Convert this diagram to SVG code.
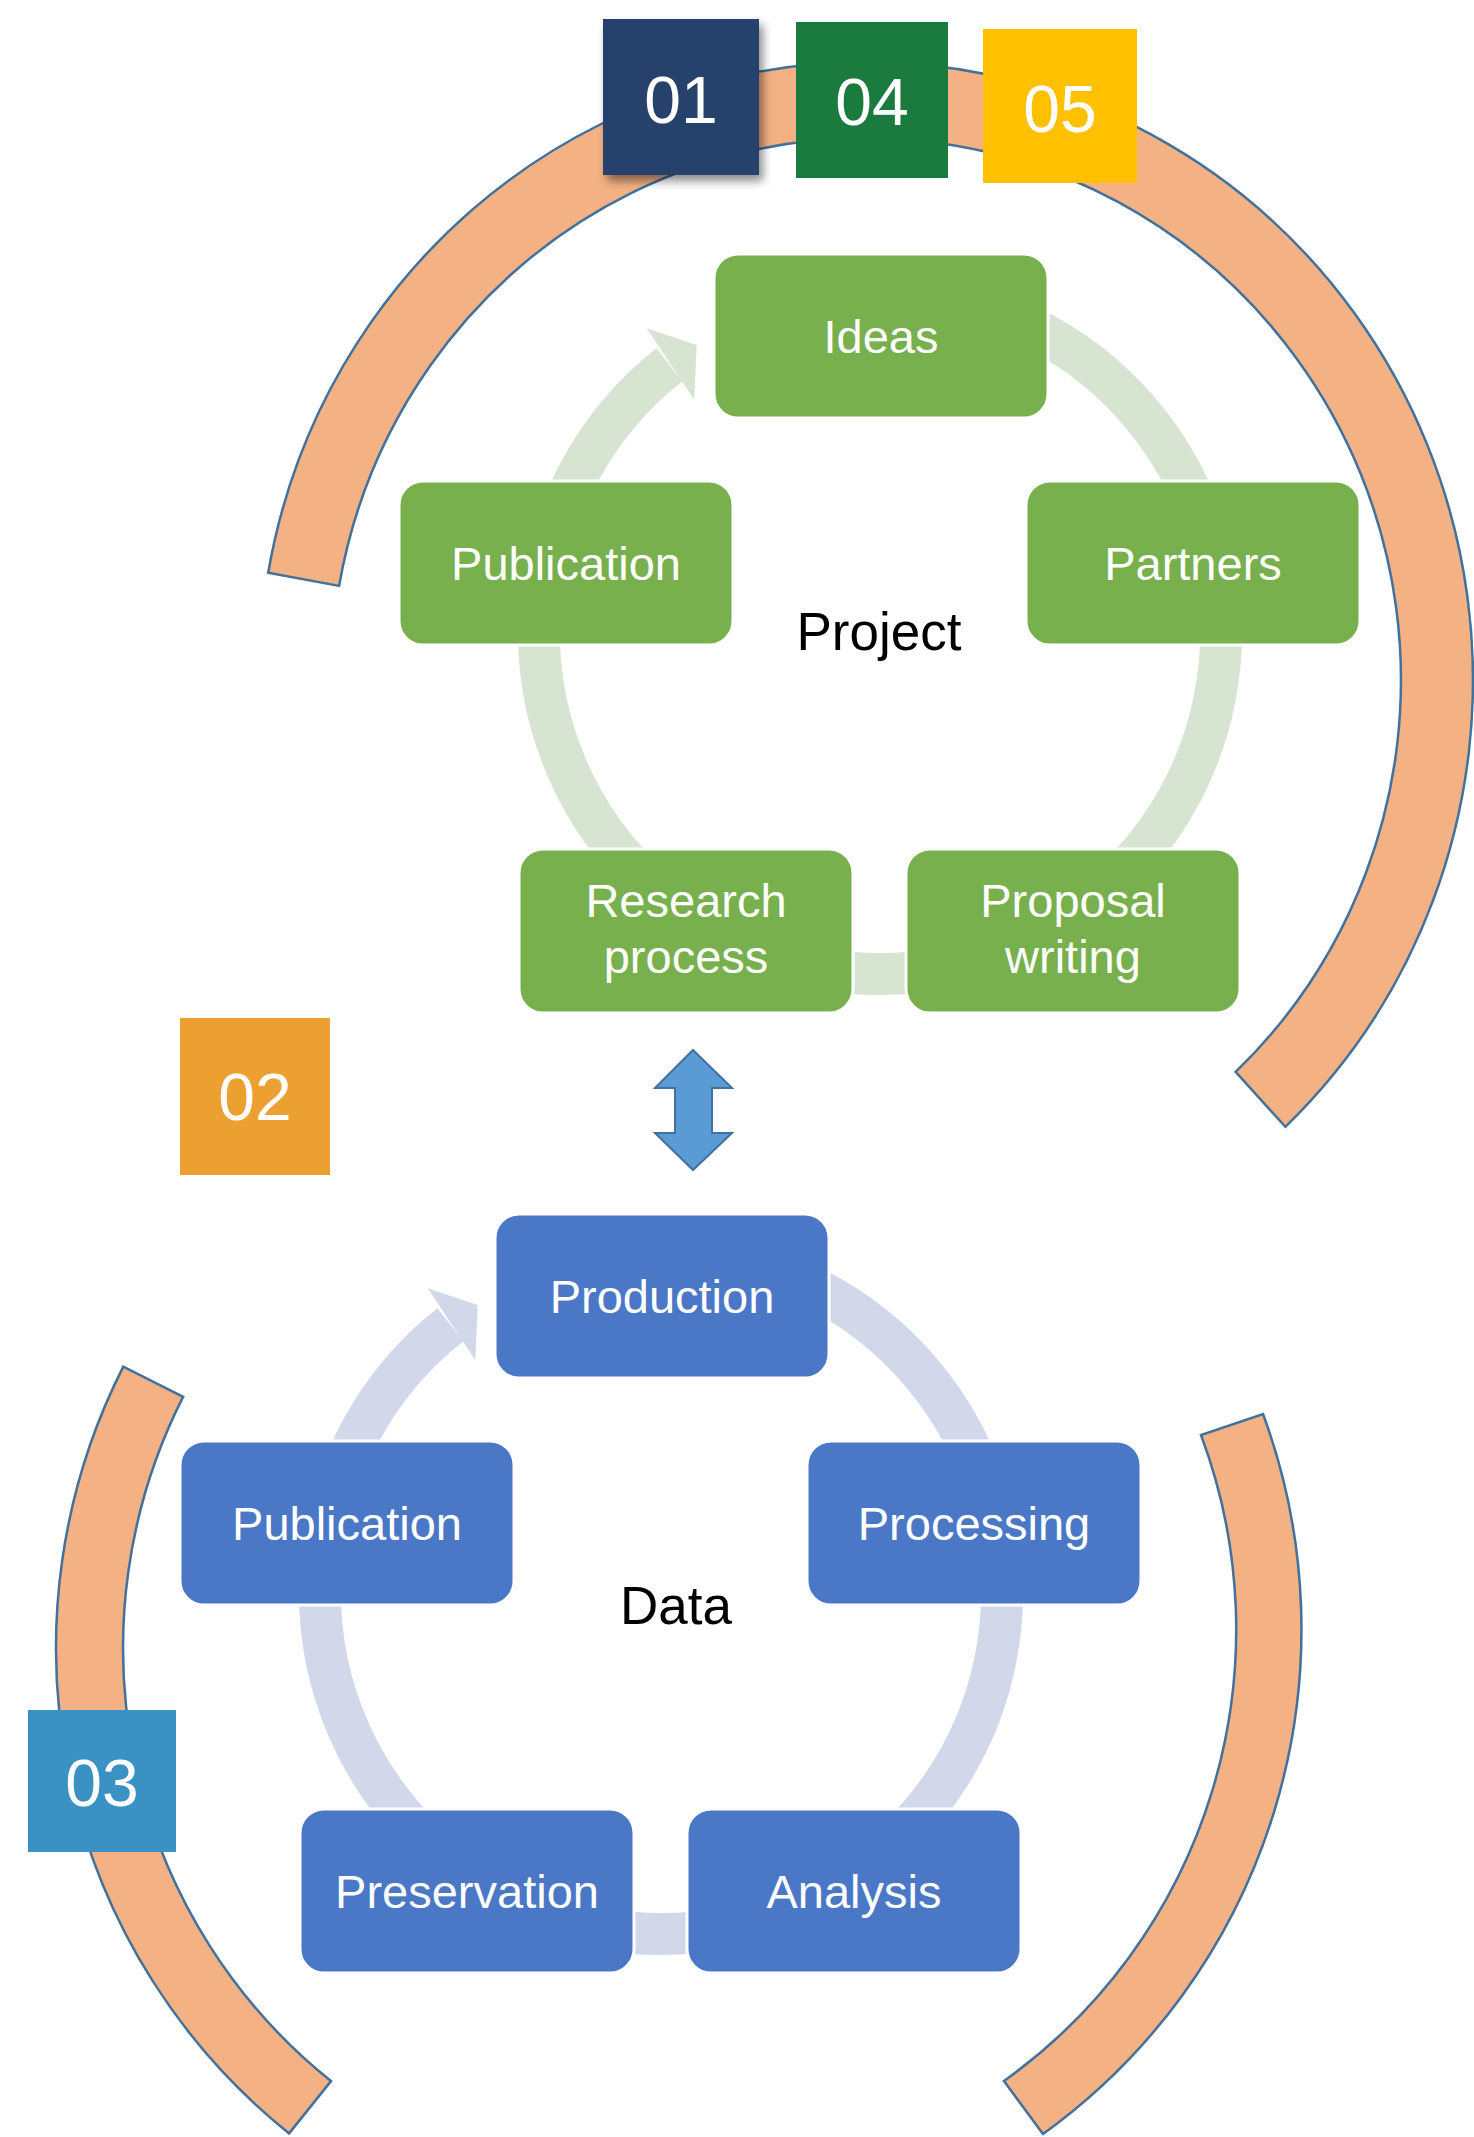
<svg xmlns="http://www.w3.org/2000/svg" width="1474" height="2137" viewBox="0 0 1474 2137">
<style>
.g{fill:#78b04e;stroke:#fff;stroke-width:3}
.b{fill:#4a78c6;stroke:#fff;stroke-width:3}
.nt{font-family:"Liberation Sans",Arial,sans-serif;font-size:47px;fill:#fff;text-anchor:middle}
.ct{font-family:"Liberation Sans",Arial,sans-serif;font-size:53px;fill:#000;text-anchor:middle}
.num{font-family:"Liberation Sans",Arial,sans-serif;font-size:66px;fill:#fff;text-anchor:middle}
.arc{fill:#f4b183;stroke:#41719c;stroke-width:2.5;stroke-linejoin:miter}
.tg{fill:none;stroke:#d8e4d2;stroke-width:42}
.tb{fill:none;stroke:#d2d7ea;stroke-width:42}
</style>
<defs>
<filter id="sh" x="-20%" y="-20%" width="150%" height="150%">
<feDropShadow dx="4" dy="6" stdDeviation="5" flood-color="#000" flood-opacity="0.45"/>
</filter>
</defs>
<rect width="1474" height="2137" fill="#fff"/>

<g id="connectors">
<path class="tg" d="M1029.5,326.5 A341 341 0 1 1 669.4,364.8"/>
<polygon fill="#d8e4d2" points="646.7,328.3 696.7,345 694.3,400"/>
<path class="tb" d="M810.5,1286.5 A341 341 0 1 1 450.4,1324.8"/>
<polygon fill="#d2d7ea" points="427.7,1288.3 477.7,1305 475.3,1360"/>
<path id="double-arrow" fill="#5b9bd5" stroke="#41719c" stroke-width="2" d="M693,1050 L732,1088 L712,1088 L712,1133 L732,1133 L693,1170 L655,1133 L675,1133 L675,1088 L655,1088 Z"/>
</g>

<g id="brackets">
<path class="arc" d="M268.2,572.7 A607 618 0 1 1 1285.4,1126.8 L1235.6,1071.9 A535 542 0 1 0 339.1,585.9 Z"/>
<path class="arc" d="M123.3,1366.6 A622 622 0 0 0 289.1,2133.4 L331,2081.1 A555 555 0 0 1 183.1,1396.9 Z"/>
<path class="arc" d="M1263,1414 A622 622 0 0 1 1043,2134 L1004,2081 A555 555 0 0 0 1201,1435 Z"/>
</g>

<g id="node-ideas"><rect class="g" x="714" y="254" width="334" height="164" rx="24"/><text class="nt" x="881" y="353">Ideas</text></g>
<g id="node-partners"><rect class="g" x="1026" y="481" width="334" height="164" rx="24"/><text class="nt" x="1193" y="580">Partners</text></g>
<g id="node-proposal"><rect class="g" x="906" y="849" width="334" height="164" rx="24"/><text class="nt" x="1073" y="917">Proposal</text><text class="nt" x="1073" y="973">writing</text></g>
<g id="node-research"><rect class="g" x="519" y="849" width="334" height="164" rx="24"/><text class="nt" x="686" y="917">Research</text><text class="nt" x="686" y="973">process</text></g>
<g id="node-publication-project"><rect class="g" x="399" y="481" width="334" height="164" rx="24"/><text class="nt" x="566" y="580">Publication</text></g>
<g id="label-project"><text class="ct" x="879" y="650">Project</text></g>

<g id="node-production"><rect class="b" x="495" y="1214" width="334" height="164" rx="24"/><text class="nt" x="662" y="1313">Production</text></g>
<g id="node-processing"><rect class="b" x="807" y="1441" width="334" height="164" rx="24"/><text class="nt" x="974" y="1540">Processing</text></g>
<g id="node-analysis"><rect class="b" x="687" y="1809" width="334" height="164" rx="24"/><text class="nt" x="854" y="1908">Analysis</text></g>
<g id="node-preservation"><rect class="b" x="300" y="1809" width="334" height="164" rx="24"/><text class="nt" x="467" y="1908">Preservation</text></g>
<g id="node-publication-data"><rect class="b" x="180" y="1441" width="334" height="164" rx="24"/><text class="nt" x="347" y="1540">Publication</text></g>
<g id="label-data"><text class="ct" x="676" y="1624">Data</text></g>

<g id="badge-01"><rect x="603" y="19" width="156" height="156" fill="#27426c" filter="url(#sh)"/><text class="num" x="681" y="123">01</text></g>
<g id="badge-04"><rect x="796" y="22" width="152" height="156" fill="#1b7a3e"/><text class="num" x="872" y="125">04</text></g>
<g id="badge-05"><rect x="983" y="29" width="154" height="154" fill="#ffc000"/><text class="num" x="1060" y="132">05</text></g>
<g id="badge-02"><rect x="180" y="1018" width="150" height="157" fill="#eca032"/><text class="num" x="255" y="1120">02</text></g>
<g id="badge-03"><rect x="28" y="1710" width="148" height="142" fill="#3a92c4"/><text class="num" x="102" y="1806">03</text></g>
</svg>
